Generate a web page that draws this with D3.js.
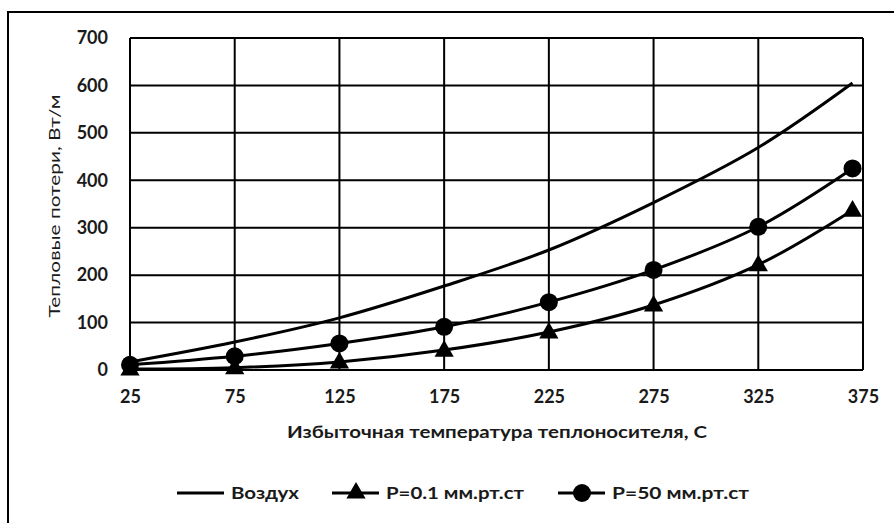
<!DOCTYPE html>
<html>
<head>
<meta charset="utf-8">
<script src="https://cdn.jsdelivr.net/npm/d3@7"></script>
<style>
  body { margin: 0; background: #fff; }
  svg { font-family: Lato, "Open Sans", sans-serif; }
</style>
</head>
<body>
<div id="chart"></div>
<script>
// data
var temps = [25, 75, 125, 175, 225, 275, 325, 370];
var air = [17, 59, 110, 177, 253, 353, 469, 605];
var p01 = [2, 5, 17, 42, 80, 137, 222, 337];
var p50 = [11, 29, 56, 91, 143, 211, 302, 425];
var xTicks = [25, 75, 125, 175, 225, 275, 325, 375];
var yTicks = [0, 100, 200, 300, 400, 500, 600, 700];
var seriesNames = ["Воздух", "P=0.1 мм.рт.ст", "P=50 мм.рт.ст"];

var svgWidth = 894;
var svgHeight = 523;

var margin = { top: 38, right: 31, bottom: 153, left: 130 };
var width = svgWidth - margin.left - margin.right;
var height = svgHeight - margin.top - margin.bottom;

var svg = d3.select("#chart")
    .append("svg")
    .attr("width", svgWidth)
    .attr("height", svgHeight);

// outer frame (cut off on right and bottom)
svg.append("rect")
    .attr("x", 8)
    .attr("y", 12)
    .attr("width", 950)
    .attr("height", 600)
    .attr("fill", "none")
    .attr("stroke", "#000")
    .attr("stroke-width", 2);

var chartGroup = svg.append("g")
    .attr("transform", `translate(${margin.left}, ${margin.top})`);

var x = d3.scaleLinear().domain([25, 375]).range([0, width]);
var y = d3.scaleLinear().domain([0, 700]).range([height, 0]);

// grid
chartGroup.append("g")
    .selectAll("line")
    .data(yTicks)
    .enter()
    .append("line")
    .attr("x1", 0)
    .attr("x2", width)
    .attr("y1", d => y(d))
    .attr("y2", d => y(d))
    .attr("stroke", "#000")
    .attr("stroke-width", 2);

chartGroup.append("g")
    .selectAll("line")
    .data(xTicks)
    .enter()
    .append("line")
    .attr("x1", d => x(d))
    .attr("x2", d => x(d))
    .attr("y1", 0)
    .attr("y2", height)
    .attr("stroke", "#000")
    .attr("stroke-width", 2);

// axes (labels only)
var bottomAxis = d3.axisBottom(x).tickValues(xTicks).tickSize(0).tickPadding(20);
var leftAxis = d3.axisLeft(y).tickValues(yTicks).tickSize(0).tickPadding(22);

chartGroup.append("g")
    .attr("transform", `translate(0, ${height})`)
    .call(bottomAxis)
    .call(g => g.select(".domain").remove())
    .selectAll("text")
    .attr("font-family", "Lato, sans-serif")
    .attr("font-size", "18px")
    .attr("font-weight", "700")
    .attr("fill", "#1a1a1a");

chartGroup.append("g")
    .call(leftAxis)
    .call(g => g.select(".domain").remove())
    .selectAll("text")
    .attr("font-family", "Lato, sans-serif")
    .attr("font-size", "18px")
    .attr("font-weight", "700")
    .attr("fill", "#1a1a1a");

// lines
var line = d3.line()
    .x(d => x(d[0]))
    .y(d => y(d[1]))
    .curve(d3.curveCatmullRom.alpha(0.5));

var series = [air, p01, p50].map(vals => temps.map((t, i) => [t, vals[i]]));

chartGroup.selectAll(".series")
    .data(series)
    .enter()
    .append("path")
    .attr("class", "series")
    .attr("d", line)
    .attr("fill", "none")
    .attr("stroke", "#000")
    .attr("stroke-width", 3);

var tri = d3.symbol().type(d3.symbolTriangle).size(160);

chartGroup.append("g").selectAll("path")
    .data(series[1])
    .enter()
    .append("path")
    .attr("d", tri)
    .attr("transform", d => `translate(${x(d[0])}, ${y(d[1]) + 1})`)
    .attr("fill", "#000");

chartGroup.append("g").selectAll("circle")
    .data(series[2])
    .enter()
    .append("circle")
    .attr("cx", d => x(d[0]))
    .attr("cy", d => y(d[1]))
    .attr("r", 9)
    .attr("fill", "#000");

// axis titles
svg.append("text")
    .attr("transform", "translate(54, 206) rotate(-90)")
    .attr("dy", "0.35em")
    .text("Тепловые потери, Вт/м")
    .attr("text-anchor", "middle")
    .attr("font-size", "16px")
    .attr("textLength", 223)
    .attr("lengthAdjust", "spacingAndGlyphs")
    .attr("fill", "#1a1a1a");

svg.append("text")
    .attr("x", 497)
    .attr("y", 432)
    .attr("dy", "0.35em")
    .text("Избыточная температура теплоносителя, С")
    .attr("text-anchor", "middle")
    .attr("font-size", "17px")
    .attr("font-weight", "700")
    .attr("textLength", 420)
    .attr("lengthAdjust", "spacingAndGlyphs")
    .attr("fill", "#1a1a1a");

// legend
var legendX = [177, 332, 558];
var legendW = [68, 138, 137];
var legend = svg.append("g").selectAll("g")
    .data(seriesNames)
    .enter()
    .append("g")
    .attr("transform", (d, i) => `translate(${legendX[i]}, 493)`);

legend.append("line")
    .attr("x1", 0)
    .attr("x2", 47)
    .attr("stroke", "#000")
    .attr("stroke-width", 3);

legend.append("text")
    .attr("x", 54)
    .attr("dy", "0.35em")
    .text(d => d)
    .attr("font-size", "17px")
    .attr("font-weight", "700")
    .attr("textLength", (d, i) => legendW[i])
    .attr("lengthAdjust", "spacingAndGlyphs")
    .attr("fill", "#1a1a1a");

legend.filter((d, i) => i === 1)
    .append("path")
    .attr("d", tri)
    .attr("transform", "translate(24, 0)")
    .attr("fill", "#000");

legend.filter((d, i) => i === 2)
    .append("circle")
    .attr("cx", 24)
    .attr("r", 9)
    .attr("fill", "#000");
</script>
</body>
</html>
